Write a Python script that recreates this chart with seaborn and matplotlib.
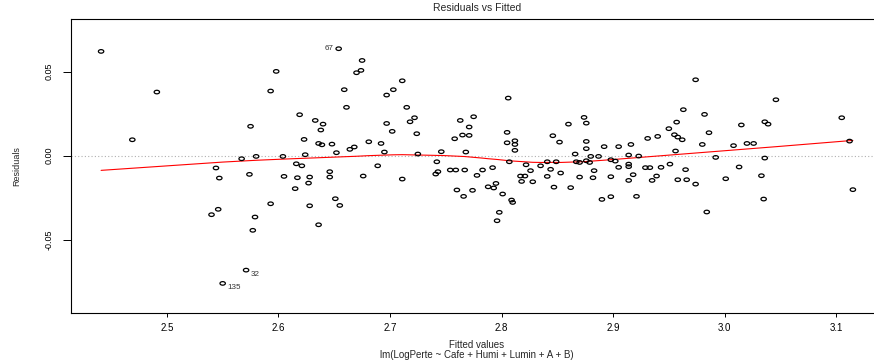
import numpy as np
import pandas as pd
import matplotlib
matplotlib.use("Agg")
import matplotlib.pyplot as plt
import seaborn as sns
from matplotlib.path import Path

# fitted values and residuals, left to right
fitted = [
    2.441, 2.491, 2.469,
    2.598, 2.593, 2.575, 2.567, 2.580, 2.544, 2.547, 2.574, 2.593, 2.546,
    2.540, 2.579, 2.577, 2.571, 2.550,
    2.654, 2.675, 2.674, 2.670, 2.659, 2.661, 2.619, 2.633, 2.640, 2.638,
    2.623, 2.636, 2.639, 2.648, 2.681, 2.692, 2.695, 2.652, 2.664, 2.668,
    2.624, 2.604, 2.616, 2.621, 2.689, 2.646, 2.605, 2.617, 2.628, 2.646,
    2.676, 2.627, 2.615, 2.651, 2.628, 2.655, 2.636,
    2.697, 2.697, 2.702, 2.711, 2.703, 2.715, 2.722, 2.718, 2.724, 2.725,
    2.746, 2.768, 2.711, 2.742, 2.743, 2.741, 2.754, 2.759, 2.767, 2.783,
    2.778, 2.792, 2.788, 2.760, 2.766, 2.774, 2.763, 2.775, 2.771, 2.765,
    2.771, 2.758,
    2.806, 2.805, 2.805, 2.812, 2.812, 2.812, 2.807, 2.793, 2.795, 2.801,
    2.809, 2.810, 2.798, 2.796, 2.822, 2.826, 2.817, 2.821, 2.818, 2.828,
    2.835, 2.841, 2.844, 2.841, 2.849, 2.853, 2.847, 2.862, 2.846, 2.852,
    2.860, 2.874, 2.876, 2.876, 2.876, 2.866, 2.867, 2.870, 2.876, 2.879,
    2.880, 2.883, 2.870, 2.882,
    2.974, 2.963, 2.957, 2.950, 2.955, 2.958, 2.962, 2.940, 2.931, 2.916,
    2.905, 2.892, 2.956, 2.887, 2.914, 2.923, 2.898, 2.902, 2.914, 2.914,
    2.905, 2.929, 2.933, 2.943, 2.951, 2.965, 2.898, 2.918, 2.914, 2.939,
    2.935, 2.958, 2.966, 2.974, 2.890, 2.898, 2.921,
    2.982, 2.980, 2.986, 2.992, 3.001, 2.984, 3.008, 3.015, 3.013, 3.020,
    3.026, 3.046, 3.036, 3.039, 3.036, 3.033, 3.035, 3.105, 3.112, 3.115,
]
residuals = [
    0.0621, 0.0379, 0.0095,
    0.0502, 0.0385, 0.0175, -0.0018, -0.0004, -0.0073, -0.0133, -0.0111,
    -0.0286, -0.0319, -0.0351, -0.0365, -0.0444, -0.0681, -0.0760,
    0.0637, 0.0567, 0.0508, 0.0494, 0.0393, 0.0288, 0.0244, 0.0210, 0.0188,
    0.0153, 0.0097, 0.0073, 0.0065, 0.0069, 0.0083, 0.0073, 0.0022, 0.0018,
    0.0038, 0.0052, 0.0006, -0.0004, -0.0048, -0.0060, -0.0060, -0.0095,
    -0.0123, -0.0131, -0.0127, -0.0127, -0.0121, -0.0163, -0.0196, -0.0256,
    -0.0298, -0.0296, -0.0411,
    0.0192, 0.0361, 0.0145, 0.0446, 0.0393, 0.0288, 0.0226, 0.0202, 0.0131,
    0.0010, 0.0024, 0.0022, -0.0139, -0.0036, -0.0095, -0.0109, -0.0085,
    -0.0085, -0.0085, -0.0085, -0.0117, -0.0071, -0.0185, -0.0204, -0.0242,
    -0.0206, 0.0210, 0.0232, 0.0171, 0.0123, 0.0121, 0.0101,
    0.0343, 0.0139, 0.0077, 0.0089, 0.0067, 0.0032, -0.0036, -0.0192,
    -0.0165, -0.0228, -0.0264, -0.0278, -0.0337, -0.0387, -0.0054, -0.0089,
    -0.0121, -0.0121, -0.0153, -0.0155, -0.0060, -0.0036, -0.0081, -0.0123,
    -0.0036, -0.0103, -0.0187, -0.0190, 0.0119, 0.0081, 0.0188, 0.0228,
    0.0194, 0.0085, 0.0042, 0.0010, -0.0036, -0.0040, -0.0030, -0.0040,
    -0.0004, -0.0089, -0.0127, -0.0131,
    0.0452, 0.0274, 0.0200, 0.0161, 0.0125, 0.0111, 0.0095, 0.0115, 0.0103,
    0.0067, 0.0054, 0.0054, 0.0028, -0.0004, 0.0004, -0.0002, -0.0024,
    -0.0032, -0.0050, -0.0065, -0.0069, -0.0071, -0.0071, -0.0069, -0.0050,
    -0.0083, -0.0125, -0.0113, -0.0147, -0.0121, -0.0147, -0.0143, -0.0143,
    -0.0169, -0.0260, -0.0244, -0.0242,
    0.0246, 0.0067, 0.0137, -0.0010, -0.0137, -0.0335, 0.0060, 0.0183,
    -0.0067, 0.0073, 0.0073, 0.0333, 0.0202, 0.0188, -0.0014, -0.0119,
    -0.0258, 0.0226, 0.0087, -0.0202,
]

# the three flagged observations
outlier_ids = ["67", "32", "135"]
outlier_fit = [2.654, 2.571, 2.550]
outlier_res = [0.0637, -0.0681, -0.0760]

x_ticks = [2.5, 2.6, 2.7, 2.8, 2.9, 3.0, 3.1]
y_ticks = [-0.05, 0.00, 0.05]

df = pd.DataFrame({"fitted": fitted, "resid": residuals})


def lowess(x, y, f=2 / 3, iters=3):
    # same idea as R's lowess() used by panel.smooth
    order = np.argsort(x, kind="stable")
    x = np.asarray(x)[order]
    y = np.asarray(y)[order]
    n = len(x)
    ns = max(min(int(f * n + 1e-7), n), 2)
    rw = np.ones(n)
    ys = np.zeros(n)
    for it in range(iters + 1):
        for i in range(n):
            d = np.abs(x - x[i])
            h = max(np.sort(d)[ns - 1], 1e-12)
            r = d / h
            w = np.where(r < 0.999, (1 - r ** 3) ** 3, 0.0) * rw
            w = w / w.sum()
            xm = (w * x).sum()
            b = (w * (x - xm) ** 2).sum()
            ym = (w * y).sum()
            if b > 1e-14:
                slope = (w * (x - xm) * (y - ym)).sum() / b
                ys[i] = ym + slope * (x[i] - xm)
            else:
                ys[i] = ym
        if it == iters:
            break
        res = y - ys
        cmad = 6 * np.median(np.abs(res))
        u = np.abs(res) / cmad
        rw = np.where(u < 0.999, (1 - u ** 2) ** 2, 0.0)
    return x, ys


sx, sy = lowess(df["fitted"].values, df["resid"].values)
smooth = pd.DataFrame({"fitted": sx, "resid": sy})

sns.set_style("ticks")
plt.rcParams["font.family"] = ["Liberation Sans", "DejaVu Sans"]

# slightly flattened open circle, like the stretched R output
t = np.linspace(0, 2 * np.pi, 40)
ellipse = Path(np.column_stack([np.cos(t), 0.66 * np.sin(t)]), closed=True)

fig = plt.figure(figsize=(8.74, 3.63), dpi=100)
ax = fig.add_axes([0.0812, 0.1377, 0.9291, 0.8099])

ax.axhline(0, color="#b0b0b0", linestyle=(0, (1, 2)), linewidth=0.8, zorder=1)
sns.scatterplot(data=df, x="fitted", y="resid", ax=ax, marker=ellipse, s=15,
                facecolor="none", edgecolor="black", linewidth=0.9, zorder=3)
sns.lineplot(data=smooth, x="fitted", y="resid", ax=ax, color="red",
             linewidth=0.8, estimator=None, sort=True, zorder=2)

for lab, fx, ry in zip(outlier_ids, outlier_fit, outlier_res):
    if lab == "67":
        ax.annotate(lab, (fx, ry), xytext=(-5, 0), textcoords="offset pixels",
                    ha="right", va="center", fontsize=5.8, color="#333333")
    else:
        ax.annotate(lab, (fx, ry), xytext=(4.5, -4.5), textcoords="offset pixels",
                    ha="left", va="center", fontsize=5.8, color="#333333")

ax.set_xlim(2.414, 3.142)
ax.set_ylim(-0.09363, 0.08137)
ax.set_xticks(x_ticks)
ax.set_xticklabels([f"{v:.1f}" for v in x_ticks], fontsize=7)
ax.set_yticks(y_ticks)
ax.set_yticklabels([f"{v:.2f}" for v in y_ticks], fontsize=6.5, rotation=90,
                   va="center")
ax.tick_params(axis="x", length=3, width=0.7, pad=4.5, colors="black")
ax.tick_params(axis="y", length=5.5, width=0.7, pad=7, colors="black")
ax.set_xlabel("")
ax.set_ylabel("")

for side in ["top", "left", "bottom"]:
    ax.spines[side].set_visible(True)
    ax.spines[side].set_linewidth(0.8)
    ax.spines[side].set_color("black")
ax.spines["right"].set_visible(False)

cx = 0.5458
fig.text(cx, 0.978, "Residuals vs Fitted", ha="center", va="center", fontsize=7.5)
fig.text(cx, 0.0496, "Fitted values", ha="center", va="center", fontsize=7)
fig.text(cx, 0.0220, "lm(LogPerte ~ Cafe + Humi + Lumin + A + B)", ha="center",
         va="center", fontsize=7)
fig.text(0.0195, 0.5427, "Residuals", ha="center", va="center", rotation=90,
         fontsize=6.5)

fig.savefig("out.png", dpi=100)
